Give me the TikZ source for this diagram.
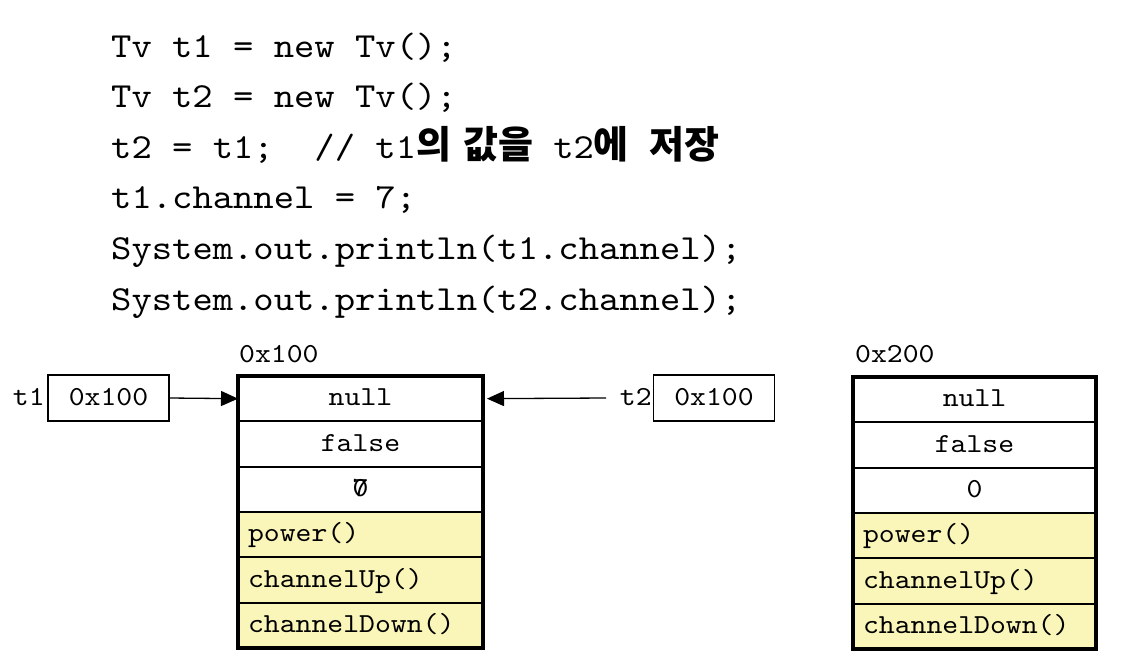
\documentclass[tikz,border=0pt]{standalone}
\usepackage{fontspec}
\newfontfamily\kr{Noto Sans CJK KR}
\newfontfamily\codefont{lmmono10-regular.otf}[FakeStretch=1.1]
\usetikzlibrary{arrows.meta}
\definecolor{methfill}{RGB}{250,246,185}
\newcommand{\krb}[1]{{\kr\bfseries\fontsize{38}{40}\selectfont #1}}
\tikzset{
  codeline/.style={anchor=base west, inner sep=0pt, font=\codefont\fontsize{35.2}{40}\selectfont},
  small/.style={font=\codefont\fontsize{27.5}{30}\selectfont},
  fieldrow/.style={small, draw, line width=1.8pt, minimum height=45.33pt, inner sep=0pt, outer sep=0pt, text height=19pt, text depth=5pt},
  methrow/.style={fieldrow, fill=methfill, align=left, inner xsep=10pt},
  refbox/.style={small, draw, line width=1.3pt, minimum width=121pt, minimum height=46pt, inner sep=0pt, text height=19pt, text depth=5pt},
  ptr/.style={line width=1.3pt, -{Triangle[length=17pt,width=15pt]}},
  objframe/.style={line width=4pt},
}
\begin{document}
\begin{tikzpicture}[x=1pt,y=-1pt]
\useasboundingbox (0,0) rectangle (1126,662);
% code
\node[codeline] (c1) at (111,57) {Tv t1 = new Tv();};
\node[codeline] (c2) at (111,107.6) {Tv t2 = new Tv();};
\node[codeline] (c3) at (111,158.2) {t2 = t1;\ \ // t1\krb{의}\kern12pt\krb{값을} t2\krb{에} \krb{저장}};
\node[codeline] (c4) at (111,208.8) {t1.channel = 7;};
\node[codeline] (c5) at (111,259.4) {System.out.println(t1.channel);};
\node[codeline] (c6) at (111,310) {System.out.println(t2.channel);};
% object 1
\node[fieldrow, minimum width=245pt] (a1) at (360.5,398.67) {null};
\node[fieldrow, minimum width=245pt] (a2) at (360.5,444) {false};
\node[fieldrow, minimum width=245pt] (a3) at (360.5,489.33) {\makebox[0pt][l]{7}0};
\node[methrow, text width=225pt] (a4) at (360.5,534.67) {power()};
\node[methrow, text width=225pt] (a5) at (360.5,580) {channelUp()};
\node[methrow, text width=225pt] (a6) at (360.5,625.33) {channelDown()};
\draw[objframe] (a1.north west) rectangle (a6.south east);
\node[small, anchor=base west, inner sep=0pt] (addr1) at (239,362) {0x100};
% object 2
\node[fieldrow, minimum width=243pt] (b1) at (974.5,399.67) {null};
\node[fieldrow, minimum width=243pt] (b2) at (974.5,445) {false};
\node[fieldrow, minimum width=243pt] (b3) at (974.5,490.33) {0};
\node[methrow, text width=223pt] (b4) at (974.5,535.67) {power()};
\node[methrow, text width=223pt] (b5) at (974.5,581) {channelUp()};
\node[methrow, text width=223pt] (b6) at (974.5,626.33) {channelDown()};
\draw[objframe] (b1.north west) rectangle (b6.south east);
\node[small, anchor=base west, inner sep=0pt] (addr2) at (855,362) {0x200};
% references
\node[refbox] (r1) at (108.5,398) {0x100};
\node[small, anchor=east, inner sep=2.5pt, text height=19pt, text depth=5pt] (l1) at (r1.west) {t1};
\node[refbox] (r2) at (714,398) {0x100};
\node[small, anchor=east, inner sep=1pt, text height=19pt, text depth=5pt] (l2) at (r2.west) {t2};
\coordinate (s2) at (606,398);
\draw[ptr] (r1.east) -- (a1.west);
\draw[ptr, shorten >=4pt] (s2) -- (a1.east);
\end{tikzpicture}
\end{document}
